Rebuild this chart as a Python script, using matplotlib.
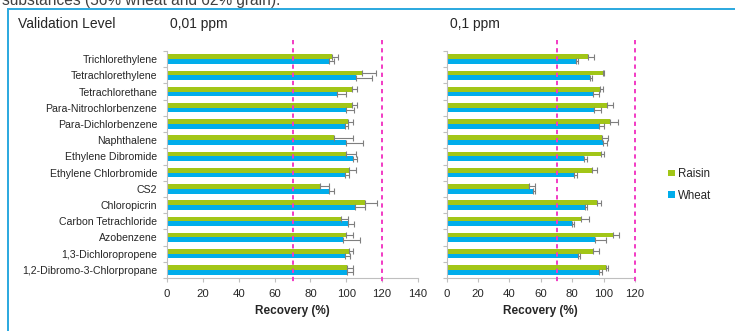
import matplotlib
matplotlib.use("Agg")
import matplotlib.pyplot as plt
import numpy as np
from matplotlib.patches import Patch, Rectangle

plt.rcParams['font.family'] = ['Liberation Sans', 'DejaVu Sans']

categories = ["Trichlorethylene", "Tetrachlorethylene", "Tetrachlorethane",
              "Para-Nitrochlorbenzene", "Para-Dichlorbenzene", "Naphthalene",
              "Ethylene Dibromide", "Ethylene Chlorbromide", "CS2", "Chloropicrin",
              "Carbon Tetrachloride", "Azobenzene", "1,3-Dichloropropene",
              "1,2-Dibromo-3-Chlorpropane"]

# 0,01 ppm
raisin_001 = [92.0, 108.7, 103.1, 103.1, 101.1, 93.4, 99.9, 101.6, 85.5, 110.2, 97.0, 99.8, 101.4, 100.3]
raisin_001_err = [3.6, 7.6, 2.8, 2.6, 2.9, 10.6, 5.6, 3.7, 4.6, 7.2, 4.2, 4.2, 2.1, 3.2]
wheat_001 = [90.3, 105.3, 94.7, 99.9, 99.2, 99.6, 103.5, 99.2, 90.1, 104.6, 100.9, 98.1, 99.4, 100.3]
wheat_001_err = [3.0, 9.3, 4.9, 4.5, 1.5, 10.0, 2.4, 2.2, 3.2, 5.6, 3.5, 9.6, 2.4, 3.2]

# 0,1 ppm
raisin_01 = [90.3, 99.6, 97.7, 102.2, 104.1, 99.2, 98.3, 92.8, 52.5, 96.0, 85.6, 105.8, 93.0, 101.3]
raisin_01_err = [3.6, 0.9, 1.9, 4.0, 4.9, 3.4, 2.0, 2.8, 4.0, 2.6, 4.9, 4.0, 4.1, 1.3]
wheat_01 = [82.2, 91.3, 93.0, 93.9, 96.9, 99.4, 87.7, 81.1, 55.2, 88.1, 79.7, 94.3, 83.7, 97.3]
wheat_01_err = [1.7, 1.1, 4.1, 4.7, 3.4, 3.0, 1.5, 1.7, 0.9, 1.1, 1.4, 7.2, 1.5, 1.9]

series_names = ["Raisin", "Wheat"]
levels = ["0,01 ppm", "0,1 ppm"]
limits = [70, 120]
xmax = [140, 120]

GREEN = "#A2C617"
BLUE = "#00ADEB"
MAGENTA = "#F23BC4"
GRAY_AX = "#BFBFBF"
TXT = "#262626"

W, H = 735, 331
fig = plt.figure(figsize=(W / 100, H / 100), dpi=100)

def fx(px):
    return px / W

def fy(py):
    return 1 - py / H

# Frame and clipped header text
fig.patches.append(Rectangle((fx(8), fy(400)), 1.2, fy(9) - fy(400), transform=fig.transFigure,
                             fill=False, edgecolor="#2AA8DF", linewidth=1.4))
fig.text(fx(2), fy(5.0), "substances (56% wheat and 62% grain).", fontsize=11.2,
         color="#404040", va="baseline", ha="left")

fig.text(fx(18), fy(24), "Validation Level", fontsize=10, color=TXT, va="center", ha="left")

ax_top, ax_bot = 51, 278
ax_specs = [(167, 418), (446.7, 635)]
data = [(raisin_001, raisin_001_err, wheat_001, wheat_001_err),
        (raisin_01, raisin_01_err, wheat_01, wheat_01_err)]

y = np.arange(len(categories))
bh = 0.29
n = len(categories)

for i, ((x0, x1), (r, re, w, we)) in enumerate(zip(ax_specs, data)):
    ax = fig.add_axes([fx(x0), fy(ax_bot), fx(x1) - fx(x0), fy(ax_top) - fy(ax_bot)])
    ekw = dict(ecolor="#7F7F7F", elinewidth=0.8, capsize=2.2, capthick=0.8)
    zeros = np.zeros(n)
    ax.barh(y - bh / 2, r, height=bh, color=GREEN, xerr=[zeros, re], error_kw=ekw, zorder=2)
    ax.barh(y + bh / 2, w, height=bh, color=BLUE, xerr=[zeros, we], error_kw=ekw, zorder=2)
    ax.set_xlim(0, xmax[i])
    ax.set_ylim(n - 0.5, -0.5)
    ax.set_xticks(np.arange(0, xmax[i] + 1, 20))
    ax.set_yticks(y)
    ax.set_yticks(np.arange(-0.5, n, 1.0), minor=True)
    if i == 0:
        ax.set_yticklabels(categories, fontsize=7.6, color=TXT)
    else:
        ax.set_yticklabels([])
    ax.tick_params(axis="y", which="major", length=0, pad=7)
    ax.tick_params(axis="y", which="minor", length=3, color=GRAY_AX, width=0.8)
    ax.tick_params(axis="x", length=3, color=GRAY_AX, width=0.8, labelsize=8.2,
                   labelcolor=TXT, pad=5)
    for s in ["top", "right"]:
        ax.spines[s].set_visible(False)
    for s in ["left", "bottom"]:
        ax.spines[s].set_color(GRAY_AX)
        ax.spines[s].set_linewidth(0.8)
    ax.set_xlabel("Recovery (%)", fontsize=8.5, fontweight="bold", color=TXT, labelpad=4)
    for lim in limits:
        ax.plot([lim, lim], [-1.18, n - 0.5 + 0.37], color=MAGENTA, linewidth=1.4,
                linestyle=(0, (2.2, 2.0)), clip_on=False, zorder=3)
    fig.text(fx(x0 + 3), fy(24), levels[i], fontsize=10, color=TXT, va="center", ha="left")

handles = [Patch(facecolor=GREEN, edgecolor="none"), Patch(facecolor=BLUE, edgecolor="none")]
fig.legend(handles, series_names, loc="center left", bbox_to_anchor=(fx(658), fy(185)),
           frameon=False, fontsize=8.3, handlelength=0.55, handleheight=0.55,
           handletextpad=0.3, labelspacing=0.85, labelcolor=TXT)

fig.savefig("out.png", dpi=100)
